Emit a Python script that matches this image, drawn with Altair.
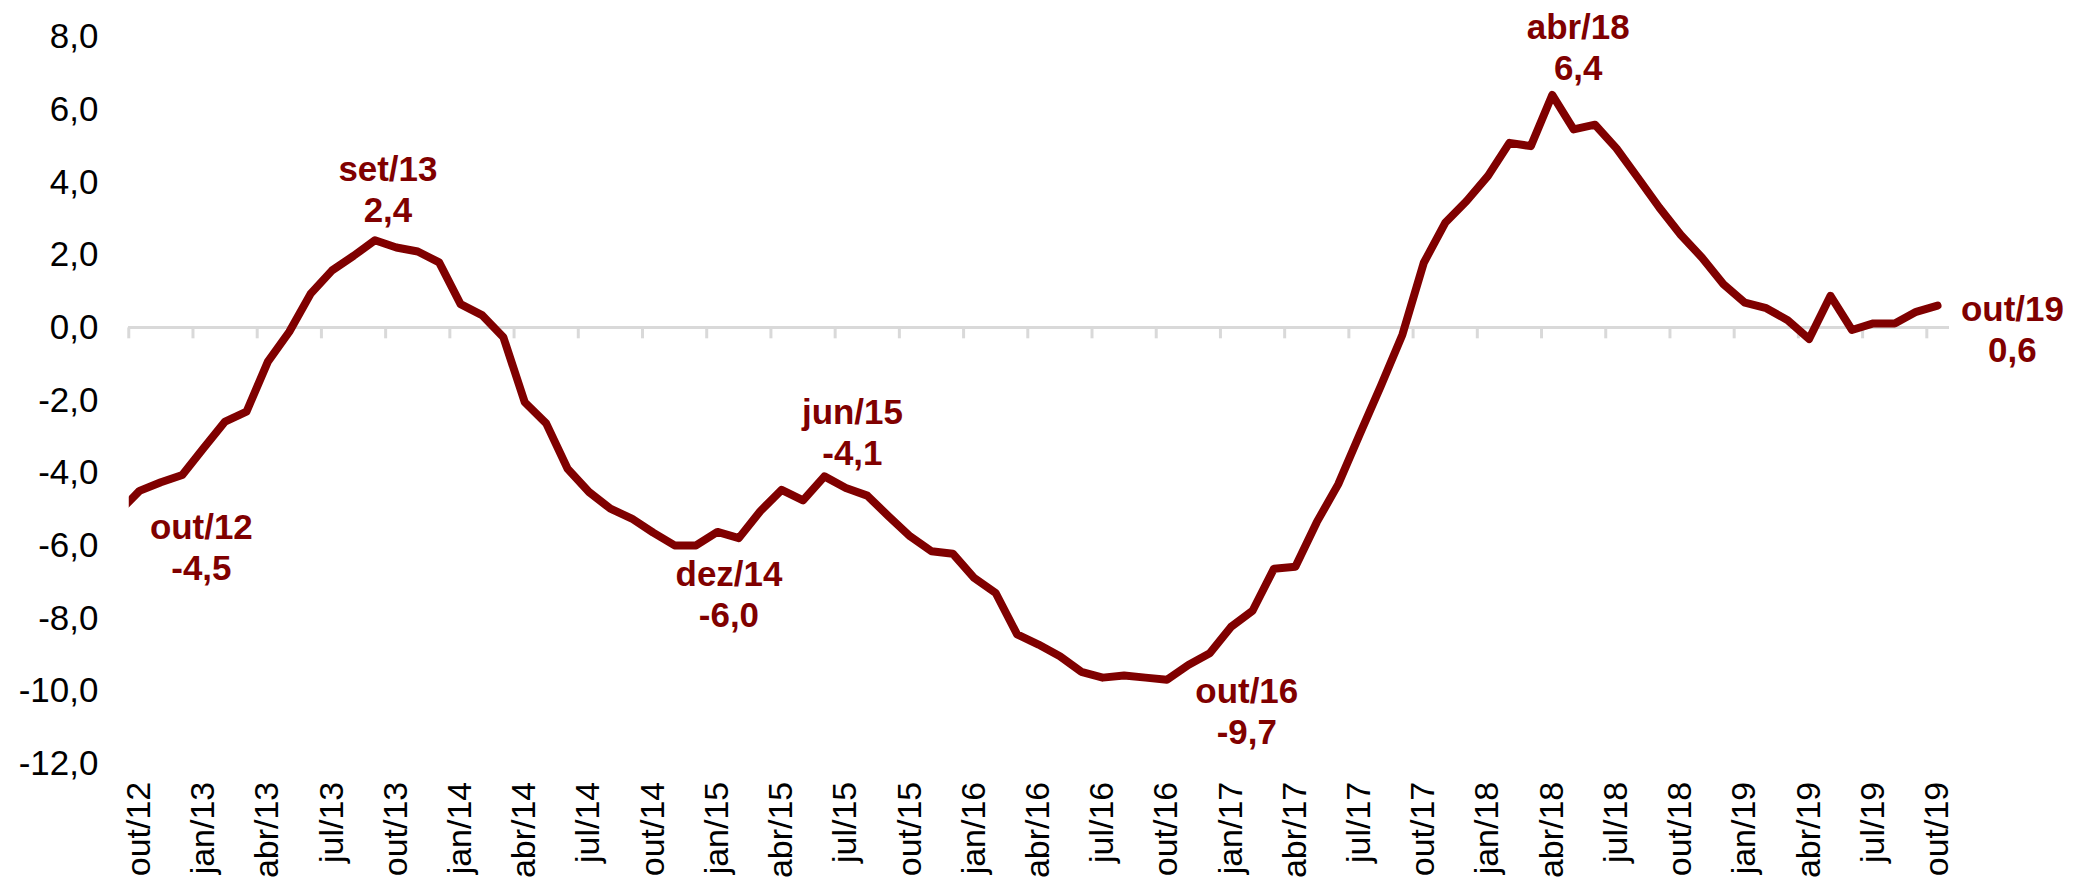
import json
import altair as alt
import pandas as pd

# ---- data ----
x_labels = ["out/12", "jan/13", "abr/13", "jul/13", "out/13", "jan/14", "abr/14", "jul/14",
            "out/14", "jan/15", "abr/15", "jul/15", "out/15", "jan/16", "abr/16", "jul/16",
            "out/16", "jan/17", "abr/17", "jul/17", "out/17", "jan/18", "abr/18", "jul/18",
            "out/18", "jan/19", "abr/19", "jul/19", "out/19"]

# monthly series: set/12 (partly outside the axis) .. out/19
values = [
    -5.1,                                                   # set/12
    -4.5, -4.26, -4.06, -3.32, -2.59, -2.32, -0.94, -0.12,  # out/12 .. mai/13
    0.93, 1.57, 1.97, 2.4, 2.2, 2.09, 1.79, 0.64,           # jun/13 .. jan/14
    0.34, -0.27, -2.06, -2.64, -3.89, -4.53, -4.99, -5.26,  # fev/14 .. set/14
    -5.65, -6.0, -6.0, -5.63, -5.8, -5.06, -4.47, -4.76,    # out/14 .. mai/15
    -4.1, -4.42, -4.63, -5.2, -5.75, -6.16, -6.23, -6.9,    # jun/15 .. jan/16
    -7.31, -8.45, -8.73, -9.05, -9.48, -9.64, -9.58, -9.64, # fev/16 .. set/16
    -9.7, -9.29, -8.97, -8.24, -7.8, -6.64, -6.59, -5.36,   # out/16 .. mai/17
    -4.32, -2.95, -1.6, -0.2, 1.78, 2.88, 3.48, 4.17,       # jun/17 .. jan/18
    5.08, 4.99, 6.4, 5.45, 5.58, 4.93, 4.12, 3.3,           # fev/18 .. set/18
    2.55, 1.92, 1.19, 0.68, 0.53, 0.2, -0.32, 0.87,         # out/18 .. mai/19
    -0.07, 0.11, 0.11, 0.43, 0.6,                           # jun/19 .. out/19
]
month_index = list(range(-1, len(values) - 1))

ann_index = [0, 11, 26, 32, 48, 66, 84]
ann_label = ["out/12", "set/13", "dez/14", "jun/15", "out/16", "abr/18", "out/19"]
ann_value = [-4.5, 2.4, -6.0, -4.1, -9.7, 6.4, 0.6]

y_ticks = [-12, -10, -8, -6, -4, -2, 0, 2, 4, 6, 8]

# ---- tables ----
series = pd.DataFrame({"idx": month_index, "value": values})
label_pos = [3 * i for i in range(len(x_labels))]
ticks = pd.DataFrame({"pos": [p - 0.5 for p in label_pos]})
ann = pd.DataFrame({
    "idx": ann_index,
    "value": ann_value,
    "lines": [[lab, f"{v:.1f}".replace(".", ",")] for lab, v in zip(ann_label, ann_value)],
})

RED = "#800000"
GRAY = "#D9D9D9"
FONT = "Liberation Sans"

xscale = alt.Scale(domain=[-0.5, len(values) - 1.5], nice=False, zero=False)
yscale = alt.Scale(domain=[-12, 8], nice=False, zero=False)

label_expr = json.dumps(x_labels) + "[round(datum.value / 3)]"
xaxis = alt.Axis(values=label_pos, labelExpr=label_expr, labelAngle=270, labelAlign="right",
                 labelBaseline="middle", domain=False, ticks=False, tickSize=0, grid=False,
                 labelPadding=18, labelFont=FONT, labelFontSize=34, labelColor="#000000",
                 labelOverlap=False, labelFlush=False, labelBound=False, title=None)
yaxis = alt.Axis(values=y_ticks,
                 labelExpr="(datum.value < 0 ? '-' : '') + replace(format(abs(datum.value), '.1f'), '.', ',')",
                 domain=False, ticks=False, tickSize=0, grid=False, labelPadding=31,
                 labelFont=FONT, labelFontSize=35, labelColor="#000000",
                 labelOverlap=False, labelFlush=False, labelBound=False, title=None)

zero_line = alt.Chart(series).mark_rule(color=GRAY, strokeWidth=3).encode(
    y=alt.datum(0, scale=yscale, axis=yaxis)
)

tick_marks = alt.Chart(ticks).mark_rule(color=GRAY, strokeWidth=3).encode(
    x=alt.X("pos:Q", scale=xscale, axis=xaxis),
    y=alt.datum(0, scale=yscale, axis=yaxis),
    y2=alt.datum(-0.3),
)

line = alt.Chart(series).mark_line(color=RED, strokeWidth=8, strokeCap="round",
                                   strokeJoin="round", clip=True).encode(
    x=alt.X("idx:Q", scale=xscale, axis=xaxis),
    y=alt.Y("value:Q", scale=yscale, axis=yaxis),
)

ann_offsets = [(62, 37), (13, -70), (33, 30), (28, -63), (80, 12), (26, -67), (75, 4)]
ann_layers = []
for i, (dx, dy) in enumerate(ann_offsets):
    ann_layers.append(
        alt.Chart(ann.iloc[[i]]).mark_text(
            dx=dx, dy=dy, font=FONT, fontSize=35, fontWeight="bold", color=RED,
            align="center", baseline="middle", lineHeight=41,
        ).encode(
            x=alt.X("idx:Q", scale=xscale, axis=xaxis),
            y=alt.Y("value:Q", scale=yscale, axis=yaxis),
            text=alt.Text("lines:N"),
        )
    )

chart = alt.layer(zero_line, tick_marks, line, *ann_layers).properties(
    width=1823, height=728,
    padding={"left": 121, "top": 28, "right": 120, "bottom": 114},
    autosize="none",
    background="#ffffff",
).configure_view(strokeWidth=0)

chart.save("out.html", embed_options={"renderer": "svg", "actions": False})
